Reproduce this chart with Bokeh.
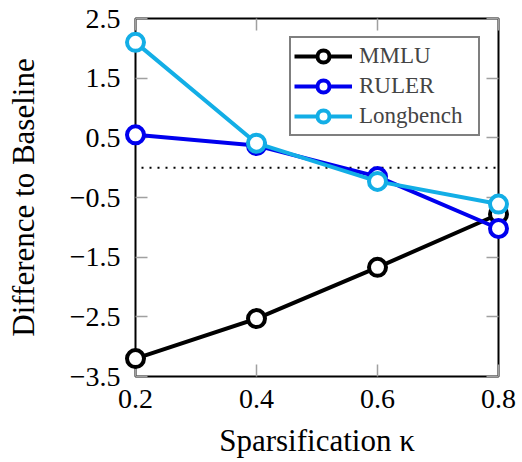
from bokeh.plotting import figure
from bokeh.models import (FixedTicker, CustomJSTickFormatter, Span, Legend, LegendItem,
                          LinearAxis, Range1d)
from bokeh.embed import file_html
from bokeh.resources import INLINE

# ---- data ----
kappa = [0.2, 0.4, 0.6, 0.8]
mmlu = [-3.20, -2.53, -1.67, -0.78]
ruler = [0.55, 0.37, -0.15, -1.02]
longbench = [2.10, 0.41, -0.23, -0.61]
series_names = ["MMLU", "RULER", "Longbench"]
series_colors = ["#000000", "#0000ee", "#13aee6"]
x_ticks = [0.2, 0.4, 0.6, 0.8]
y_ticks = [-3.5, -2.5, -1.5, -0.5, 0.5, 1.5, 2.5]
baseline = 0.0

FONT = "Liberation Serif"

p = figure(width=520, height=460, output_backend="svg", toolbar_location=None,
           x_range=Range1d(0.2, 0.8), y_range=Range1d(-3.5, 2.5),
           min_border_left=135, min_border_top=18, min_border_right=22,
           min_border_bottom=82)
p.background_fill_color = "white"
p.border_fill_color = "white"
p.grid.visible = False
p.outline_line_color = "black"
p.outline_line_width = 2
p.outline_line_alpha = 1

fmt = CustomJSTickFormatter(code="return (tick < 0 ? '\u2212' : '') + Math.abs(tick).toFixed(1);")

for ax in p.xaxis + p.yaxis:
    ax.axis_line_color = None
    ax.major_tick_in = 12
    ax.major_tick_out = 0
    ax.minor_tick_line_color = None
    ax.major_tick_line_color = "#a0a0a0"
    ax.major_tick_line_width = 1.5
    ax.major_label_text_font = FONT
    ax.major_label_text_font_size = "28px"
    ax.major_label_text_color = "black"
    ax.axis_label_text_font = FONT
    ax.axis_label_text_font_size = "31px"
    ax.axis_label_text_font_style = "normal"
    ax.axis_label_text_color = "black"
    ax.formatter = fmt

p.xaxis.ticker = FixedTicker(ticks=x_ticks)
p.yaxis.ticker = FixedTicker(ticks=y_ticks)
p.xaxis.axis_label = "Sparsification κ"
p.yaxis.axis_label = "Difference to Baseline"
p.xaxis.major_label_standoff = 13
p.yaxis.major_label_standoff = 15
p.xaxis.axis_label_standoff = 12
p.yaxis.axis_label_standoff = 26

# mirrored axes (ticks only, no labels)
for loc, tick in (("right", y_ticks), ("above", x_ticks)):
    a = LinearAxis(ticker=FixedTicker(ticks=tick), major_label_text_font_size="1px",
                   major_label_text_alpha=0,
                   formatter=CustomJSTickFormatter(code="return '';"),
                   axis_line_color=None, major_tick_in=12, major_tick_out=0,
                   minor_tick_line_color=None, major_tick_line_color="#a0a0a0",
                   major_tick_line_width=1.5, major_label_standoff=0)
    p.add_layout(a, loc)

p.add_layout(Span(location=baseline, dimension="width", line_color="black",
                  line_width=2, line_dash="2 6", line_dash_offset=-6))

items = []
for name, ys, col in zip(series_names, [mmlu, ruler, longbench], series_colors):
    r1 = p.line(kappa, ys, line_color=col, line_width=4, level="overlay")
    r2 = p.scatter(kappa, ys, size=17, line_color=col, fill_color="white",
                   line_width=4, level="overlay")
    items.append(LegendItem(label=name, renderers=[r1, r2]))

legend = Legend(items=items, location="top_right", margin=18,
                label_text_font=FONT, label_text_font_size="23px",
                glyph_width=58, glyph_height=30, spacing=0,
                label_standoff=7, label_width=116, padding=3,
                border_line_color="black", border_line_width=2,
                background_fill_alpha=1)
p.add_layout(legend)

open("out.html", "w").write(file_html(p, INLINE))
